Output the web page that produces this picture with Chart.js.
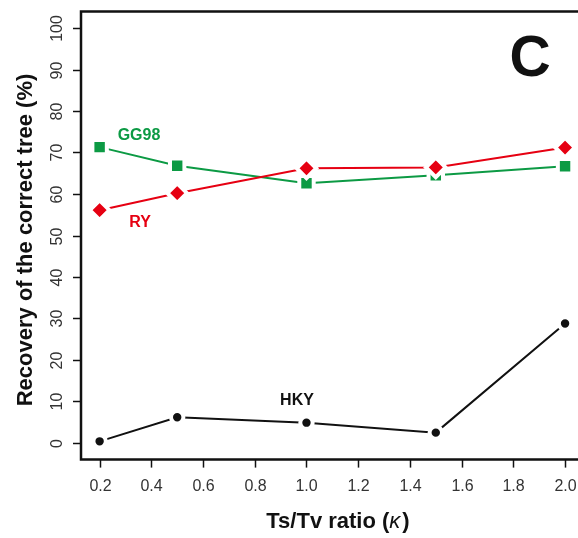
<!DOCTYPE html>
<html>
<head>
<meta charset="utf-8">
<script src="https://cdn.jsdelivr.net/npm/chart.js@4"></script>
<style>
  html, body { margin: 0; padding: 0; background: #fff; overflow: hidden; }
  #wrap { width: 578px; height: 538px; }
</style>
</head>
<body>
<div id="wrap"><canvas id="c" width="578" height="538"></canvas></div>
<script>
// данные
var kappa = [0.2, 0.5, 1.0, 1.5, 2.0];
var gg98 = [71.3, 66.8, 62.6, 64.5, 66.7];
var ry = [56.1, 60.2, 66.2, 66.4, 71.2];
var hky = [0.4, 6.2, 4.9, 2.5, 28.8];

var xTicks = [0.2, 0.4, 0.6, 0.8, 1.0, 1.2, 1.4, 1.6, 1.8, 2.0];
var yTicks = [0, 10, 20, 30, 40, 50, 60, 70, 80, 90, 100];

var GREEN = '#0c9a44';
var RED = '#e60012';
var FONT = "'Liberation Sans', Arial, sans-serif";

function pts(ys) {
    return kappa.map(function(k, i) { return { x: k, y: ys[i] }; });
}

// рамка, засечки и подписи в стиле R
var axesPlugin = {
    id: 'rAxes',
    afterDraw: function(chart) {
        var ctx = chart.ctx;
        var a = chart.chartArea;
        var xs = chart.scales.x;
        var ys = chart.scales.y;
        ctx.save();

        ctx.strokeStyle = '#111';
        ctx.lineWidth = 2.5;
        ctx.beginPath();
        ctx.moveTo(a.right + 5, a.top);
        ctx.lineTo(a.left, a.top);
        ctx.lineTo(a.left, a.bottom);
        ctx.lineTo(a.right + 5, a.bottom);
        ctx.stroke();

        ctx.lineWidth = 1.5;
        ctx.fillStyle = '#333';
        ctx.font = '16px ' + FONT;

        // ось X
        xTicks.forEach(function(v) {
            var px = Math.round(xs.getPixelForValue(v)) + 0.5;
            ctx.beginPath();
            ctx.moveTo(px, a.bottom);
            ctx.lineTo(px, a.bottom + 8);
            ctx.stroke();
            ctx.textAlign = 'center';
            ctx.textBaseline = 'middle';
            ctx.fillText(v.toFixed(1), px, 487);
        });

        // ось Y (подписи повернуты)
        yTicks.forEach(function(v) {
            var py = Math.round(ys.getPixelForValue(v)) + 0.5;
            ctx.beginPath();
            ctx.moveTo(a.left, py);
            ctx.lineTo(a.left - 8, py);
            ctx.stroke();
            ctx.save();
            ctx.translate(58, py);
            ctx.rotate(-Math.PI / 2);
            ctx.textAlign = 'center';
            ctx.textBaseline = 'middle';
            ctx.fillText(String(v), 0, 0);
            ctx.restore();
        });

        ctx.fillStyle = '#111';
        // заголовок оси Y
        ctx.save();
        ctx.translate(26, 240);
        ctx.rotate(-Math.PI / 2);
        ctx.font = 'bold 22px ' + FONT;
        ctx.textAlign = 'center';
        ctx.textBaseline = 'middle';
        ctx.fillText('Recovery of the correct tree (%)', 0, 0);
        ctx.restore();

        // заголовок оси X с курсивной каппой
        var p1 = 'Ts/Tv ratio (', p2 = '\u03BA', p3 = ')';
        var fb = 'bold 22px ' + FONT, fi = 'italic 22px ' + FONT;
        ctx.font = fb; var w1 = ctx.measureText(p1).width; var w3 = ctx.measureText(p3).width;
        ctx.font = fi; var w2 = ctx.measureText(p2).width + 2;
        var x0 = 338 - (w1 + w2 + w3) / 2;
        ctx.textAlign = 'left';
        ctx.textBaseline = 'alphabetic';
        ctx.font = fb; ctx.fillText(p1, x0, 528);
        ctx.font = fi; ctx.fillText(p2, x0 + w1, 528);
        ctx.font = fb; ctx.fillText(p3, x0 + w1 + w2, 528);

        // подписи серий
        ctx.textAlign = 'center';
        ctx.textBaseline = 'middle';
        ctx.font = 'bold 16px ' + FONT;
        ctx.fillStyle = GREEN; ctx.fillText('GG98', 139, 136);
        ctx.fillStyle = RED; ctx.fillText('RY', 140, 223);
        ctx.fillStyle = '#111'; ctx.fillText('HKY', 297, 401);

        ctx.font = 'bold 57px ' + FONT;
        ctx.fillText('C', 530, 60);
        ctx.restore();
    }
};

new Chart(document.getElementById('c').getContext('2d'), {
    type: 'line',
    data: {
        datasets: [
            {
                label: 'RY',
                data: pts(ry),
                borderColor: RED,
                borderWidth: 2,
                pointStyle: 'rectRot',
                pointRadius: 9.8,
                pointBackgroundColor: RED,
                pointBorderColor: '#fff',
                pointBorderWidth: 4,
                tension: 0
            },
            {
                label: 'GG98',
                data: pts(gg98),
                borderColor: GREEN,
                borderWidth: 2,
                pointStyle: 'rect',
                pointRadius: 10.2,
                pointBackgroundColor: GREEN,
                pointBorderColor: '#fff',
                pointBorderWidth: 4,
                tension: 0
            },
            {
                label: 'HKY',
                data: pts(hky),
                borderColor: '#111',
                borderWidth: 2,
                pointStyle: 'circle',
                pointRadius: 6.2,
                pointBackgroundColor: '#111',
                pointBorderColor: '#fff',
                pointBorderWidth: 4,
                tension: 0
            }
        ]
    },
    options: {
        responsive: false,
        devicePixelRatio: 1,
        animation: false,
        layout: { autoPadding: false, padding: { left: 81, right: 0, top: 11.4, bottom: 78.4 } },
        plugins: { legend: { display: false }, tooltip: { enabled: false } },
        scales: {
            x: { type: 'linear', display: false, min: 0.128, max: 2.05 },
            y: { display: false, min: -4, max: 104 }
        }
    },
    plugins: [axesPlugin]
});
</script>
</body>
</html>
